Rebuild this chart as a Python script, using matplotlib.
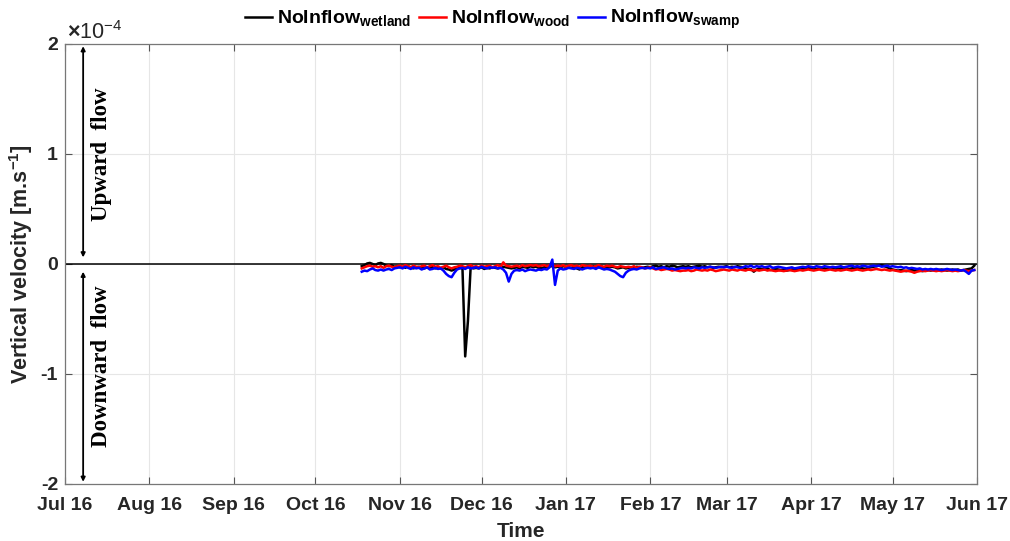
import numpy as np
import pandas as pd
import matplotlib
matplotlib.use("Agg")
import matplotlib.pyplot as plt

# ---- data (daily, units of 1e-6 m/s) ----
start_date = "2016-10-18"
end_date = "2017-05-31"

wetland = [
    -2, -1, 0.5, 1, 0, -1, 0.5,
    1, 0, -1.5, -2, -1, -2.5, -2,
    -3, -2.5, -3.5, -2, -3, -4, -3,
    -2.5, -3.5, -4, -3, -3.5, -2.5, -4,
    -3.5, -4, -3, -4.5, -5, -6, -5,
    -4, -3.5, -4, -84, -52, -3, -4,
    -3.5, -4, -3, -4.5, -3.5, -4, -3,
    -3.5, -4, -3, -2.5, -3, -3.5, -4,
    -3.5, -3, -4, -2.5, -3, -3.5, -2,
    -3, -2.5, -3.5, -4, -3, -2.5, -2,
    -2, -3, -2.5, -3, -2, -2.5, -3,
    -3.5, -2.5, -4, -5, -3, -3.5, -2.5,
    -3, -2, -2.5, -3, -2, -3.5, -2.5,
    -3, -2.5, -3, -4, -3.5, -3, -4,
    -3.5, -3, -4, -2.5, -3, -3.5, -3,
    -2.5, -3, -2, -1.5, -2.5, -2, -3,
    -2, -2.5, -1.5, -2, -3, -2.5, -2,
    -2.5, -2, -3, -2.5, -2, -1.5, -2.5,
    -2, -3, -2.5, -3.5, -3, -2.5, -3,
    -2.5, -2, -3, -2.5, -3, -2, -2.5,
    -3, -4, -5, -4.5, -7, -5, -4,
    -4.5, -5, -4, -5.5, -5, -4.5, -5,
    -5.5, -5, -6, -5.5, -5, -4.5, -5,
    -4.5, -4, -4.5, -4, -3.5, -4, -4.5,
    -4, -3.5, -4, -4.5, -4, -3.5, -4,
    -4.5, -4, -3.5, -4, -4.5, -4, -3.5,
    -4, -3.5, -4, -4.5, -3.5, -3, -2.5,
    -2, -1.5, -1, -2, -3, -4, -5,
    -5.5, -6, -5.5, -6, -6.5, -6, -5.5,
    -6, -5.5, -6, -6.5, -6, -5.5, -6,
    -5.5, -6, -5.5, -5, -5.5, -6, -5.5,
    -5, -5.5, -5, -6, -5.5, -5, -4.5,
    -4, -1.5,
]

wood = [
    -4, -3, -2, -1.5, -2.5, -2, -3,
    -2, -3.5, -2, -1.5, -2.5, -3, -2,
    -1.5, -2.5, -1, -2, -3, -1.5, -2.5,
    -3, -2, -1.5, -3, -2, -1, -2.5,
    -2, -3.5, -2.5, -1.5, -3, -4, -3,
    -2.5, -1.5, -2, -3, -2, -1, -2.5,
    -2, -3, -1.5, -2.5, -2, -1.5, -3,
    -2, -1, -2.5, 1.5, -1.5, -2, -2.5,
    -2, -1.5, -2.5, -1, -2, -1.5, -1,
    -1.5, -1, -2, -1.5, -1, -2, -1,
    -1, -2, -1.5, -2, -1, -2.5, -1.5,
    -1, -2, -1.5, -2.5, -1, -1.5, -2,
    -1.5, -2.5, -2, -1, -2, -2.5, -1.5,
    -2, -1.5, -2.5, -3, -2, -2.5, -3,
    -2.5, -3, -2, -3.5, -2.5, -3, -4,
    -3.5, -3, -4, -5, -4.5, -5.5, -5,
    -4.5, -5, -6, -5.5, -6, -6.5, -6,
    -6, -5.5, -6.5, -6, -5, -5.5, -6,
    -5.5, -6, -5, -5.5, -6.5, -6, -5.5,
    -5, -5.5, -6, -5, -5.5, -6, -5,
    -5.5, -6, -5, -5.5, -6, -5.5, -6,
    -5.5, -5, -6, -5.5, -6, -6.5, -6,
    -6, -6.5, -6, -5.5, -6, -6.5, -6,
    -5.5, -6, -5.5, -5, -5.5, -6, -5.5,
    -5, -5.5, -6, -5.5, -5, -5.5, -6,
    -5.5, -6, -5.5, -5, -5.5, -6, -5.5,
    -5, -5.5, -6, -5.5, -5, -5.5, -5,
    -4.5, -5, -5.5, -5, -5.5, -6, -5.5,
    -6, -6.5, -7, -6.5, -6, -6.5, -7,
    -8, -7, -6.5, -6, -6.5, -6, -5.5,
    -6, -6.5, -6, -6.5, -6, -5.5, -6,
    -6.5, -6, -6.5, -6, -5.5, -6, -6.5,
    -6, -5.5,
]

swamp = [
    -7, -6, -6.5, -5, -4, -5.5, -6,
    -5, -6, -5, -4.5, -5.5, -4, -3.5,
    -3, -4, -2.5, -3.5, -4.5, -3, -4,
    -3.5, -5, -4, -3, -5, -4.5, -3.5,
    -4.5, -4, -6, -9, -11, -12, -8,
    -5, -4, -3.5, -4.5, -3, -4, -3.5,
    -3, -4, -2.5, -3.5, -4, -3, -3.5,
    -3, -4, -3.5, -5, -8, -16, -9,
    -6, -5.5, -6, -5, -6.5, -5.5, -5,
    -5.5, -6, -5, -5.5, -4.5, -5, -3,
    4, -19, -6, -4, -5, -4.5, -3.5,
    -4, -4.5, -3.5, -4, -5, -4, -3.5,
    -4, -3.5, -4.5, -3, -4, -5, -4.5,
    -5, -6, -7, -9, -11, -12, -8,
    -6, -5, -4.5, -5, -4, -3.5, -4,
    -3.5, -4, -3, -4.5, -4, -3.5, -3,
    -4, -4.5, -4, -5, -4.5, -4, -3.5,
    -4, -3.5, -4, -3, -3.5, -4, -3,
    -3.5, -3, -2.5, -3, -3.5, -3, -2.5,
    -3, -2.5, -3, -3.5, -2.5, -3, -3.5,
    -3, -2, -2.5, -1.5, -3, -2, -2.5,
    -2, -3, -2.5, -2, -3.5, -3, -2.5,
    -3, -3.5, -4, -3.5, -3, -4, -3.5,
    -3, -2.5, -3, -2, -2.5, -3, -2,
    -2.5, -3, -2, -2.5, -3, -2.5, -3,
    -2.5, -2, -3, -2.5, -2, -1.5, -2.5,
    -2, -2.5, -1.5, -2, -2.5, -2, -1.5,
    -2, -1.5, -2.5, -2, -1.5, -2.5, -2,
    -2.5, -3, -2.5, -3.5, -3, -4, -3.5,
    -4, -4.5, -4, -5, -4.5, -5, -4.5,
    -5, -4.5, -5, -5.5, -5, -4.5, -5,
    -5.5, -5, -5.5, -6, -5.5, -7, -9,
    -6, -5.5,
]

series_labels = [r"NoInflow$_{\mathbf{wetland}}$",
                 r"NoInflow$_{\mathbf{wood}}$",
                 r"NoInflow$_{\mathbf{swamp}}$"]
series_colors = ["#000000", "#ff0000", "#0000ff"]

x_tick_dates = pd.date_range("2016-07-01", "2017-06-01", freq="MS")
x_tick_labels = [d.strftime("%b %y") for d in x_tick_dates]
y_ticks = [-2e-4, -1e-4, 0, 1e-4, 2e-4]
y_tick_labels = ["-2", "-1", "0", "1", "2"]

dates = pd.date_range(start_date, end_date, freq="D")
scale = 1e-6

# ---- plot ----
plt.rcParams["font.family"] = ["Liberation Sans", "DejaVu Sans"]
plt.rcParams["mathtext.fontset"] = "custom"
plt.rcParams["mathtext.rm"] = "Liberation Sans:bold"
plt.rcParams["mathtext.bf"] = "Liberation Sans:bold"
plt.rcParams["mathtext.it"] = "Liberation Sans:bold"

TXT = "#262626"
fig = plt.figure(figsize=(10.10, 5.41), dpi=100)
ax = fig.add_axes([65 / 1010, 57 / 541, 912 / 1010, 440 / 541])

ax.axhline(0, color="k", lw=1.1, zorder=1)
for vals, lab, col in zip([wetland, wood, swamp], series_labels, series_colors):
    ax.plot(dates, np.array(vals) * scale, color=col, lw=1.8, label=lab, zorder=2)

ax.set_xlim(x_tick_dates[0], x_tick_dates[-1])
ax.set_ylim(-2e-4, 2e-4)
ax.set_xticks(x_tick_dates)
ax.set_xticklabels(x_tick_labels, fontsize=14, fontweight="bold", color=TXT)
ax.set_yticks(y_ticks)
ax.set_yticklabels(y_tick_labels, fontsize=14, fontweight="bold", color=TXT)
ax.tick_params(direction="in", length=5, width=0.8, color="#555555",
               top=True, right=True)
ax.tick_params(axis="x", pad=9)
ax.tick_params(axis="y", pad=5)
ax.grid(True, color="#e6e6e6", lw=0.8)
ax.set_axisbelow(True)
for s in ax.spines.values():
    s.set_color("#777777")
    s.set_linewidth(0.9)

ax.set_xlabel("Time", fontsize=15, fontweight="bold", color=TXT, labelpad=6)
ax.set_ylabel(r"Vertical velocity [m.s$^{\mathbf{-1}}$]", fontsize=15.5,
              fontweight="bold", color=TXT, labelpad=4)

ax.text(0.002, 1.0, r"$\times\mathregular{10^{-4}}$", transform=ax.transAxes,
        fontsize=15.5, color=TXT, va="bottom", ha="left",
        family="Liberation Sans")

# arrows and annotations
arr_x = pd.Timestamp("2016-07-07 16:00")
txt_x = pd.Timestamp("2016-07-14 12:00")
ax.annotate("", xy=(arr_x, 1.98e-4), xytext=(arr_x, 0.06e-4),
            arrowprops=dict(arrowstyle="<|-|>", color="k", lw=1.3,
                            mutation_scale=6, shrinkA=0, shrinkB=0))
ax.annotate("", xy=(arr_x, -0.07e-4), xytext=(arr_x, -1.98e-4),
            arrowprops=dict(arrowstyle="<|-|>", color="k", lw=1.3,
                            mutation_scale=6, shrinkA=0, shrinkB=0))
ax.text(txt_x, 1.0e-4, "Upward  flow", rotation=90, ha="center", va="center",
        family="Liberation Serif", fontweight="bold", fontsize=16.5)
ax.text(txt_x, -0.93e-4, "Downward  flow", rotation=90, ha="center", va="center",
        family="Liberation Serif", fontweight="bold", fontsize=16.5)

leg = ax.legend(loc="center", bbox_to_anchor=(0.469, 1.055), ncol=3,
                frameon=False, fontsize=14, handlelength=1.4, handletextpad=0.25,
                columnspacing=0.4, borderaxespad=0.0, borderpad=0.0)
for t in leg.get_texts():
    t.set_fontweight("bold")
for h in leg.get_lines():
    h.set_linewidth(1.8)

fig.savefig("out.png", dpi=100)
